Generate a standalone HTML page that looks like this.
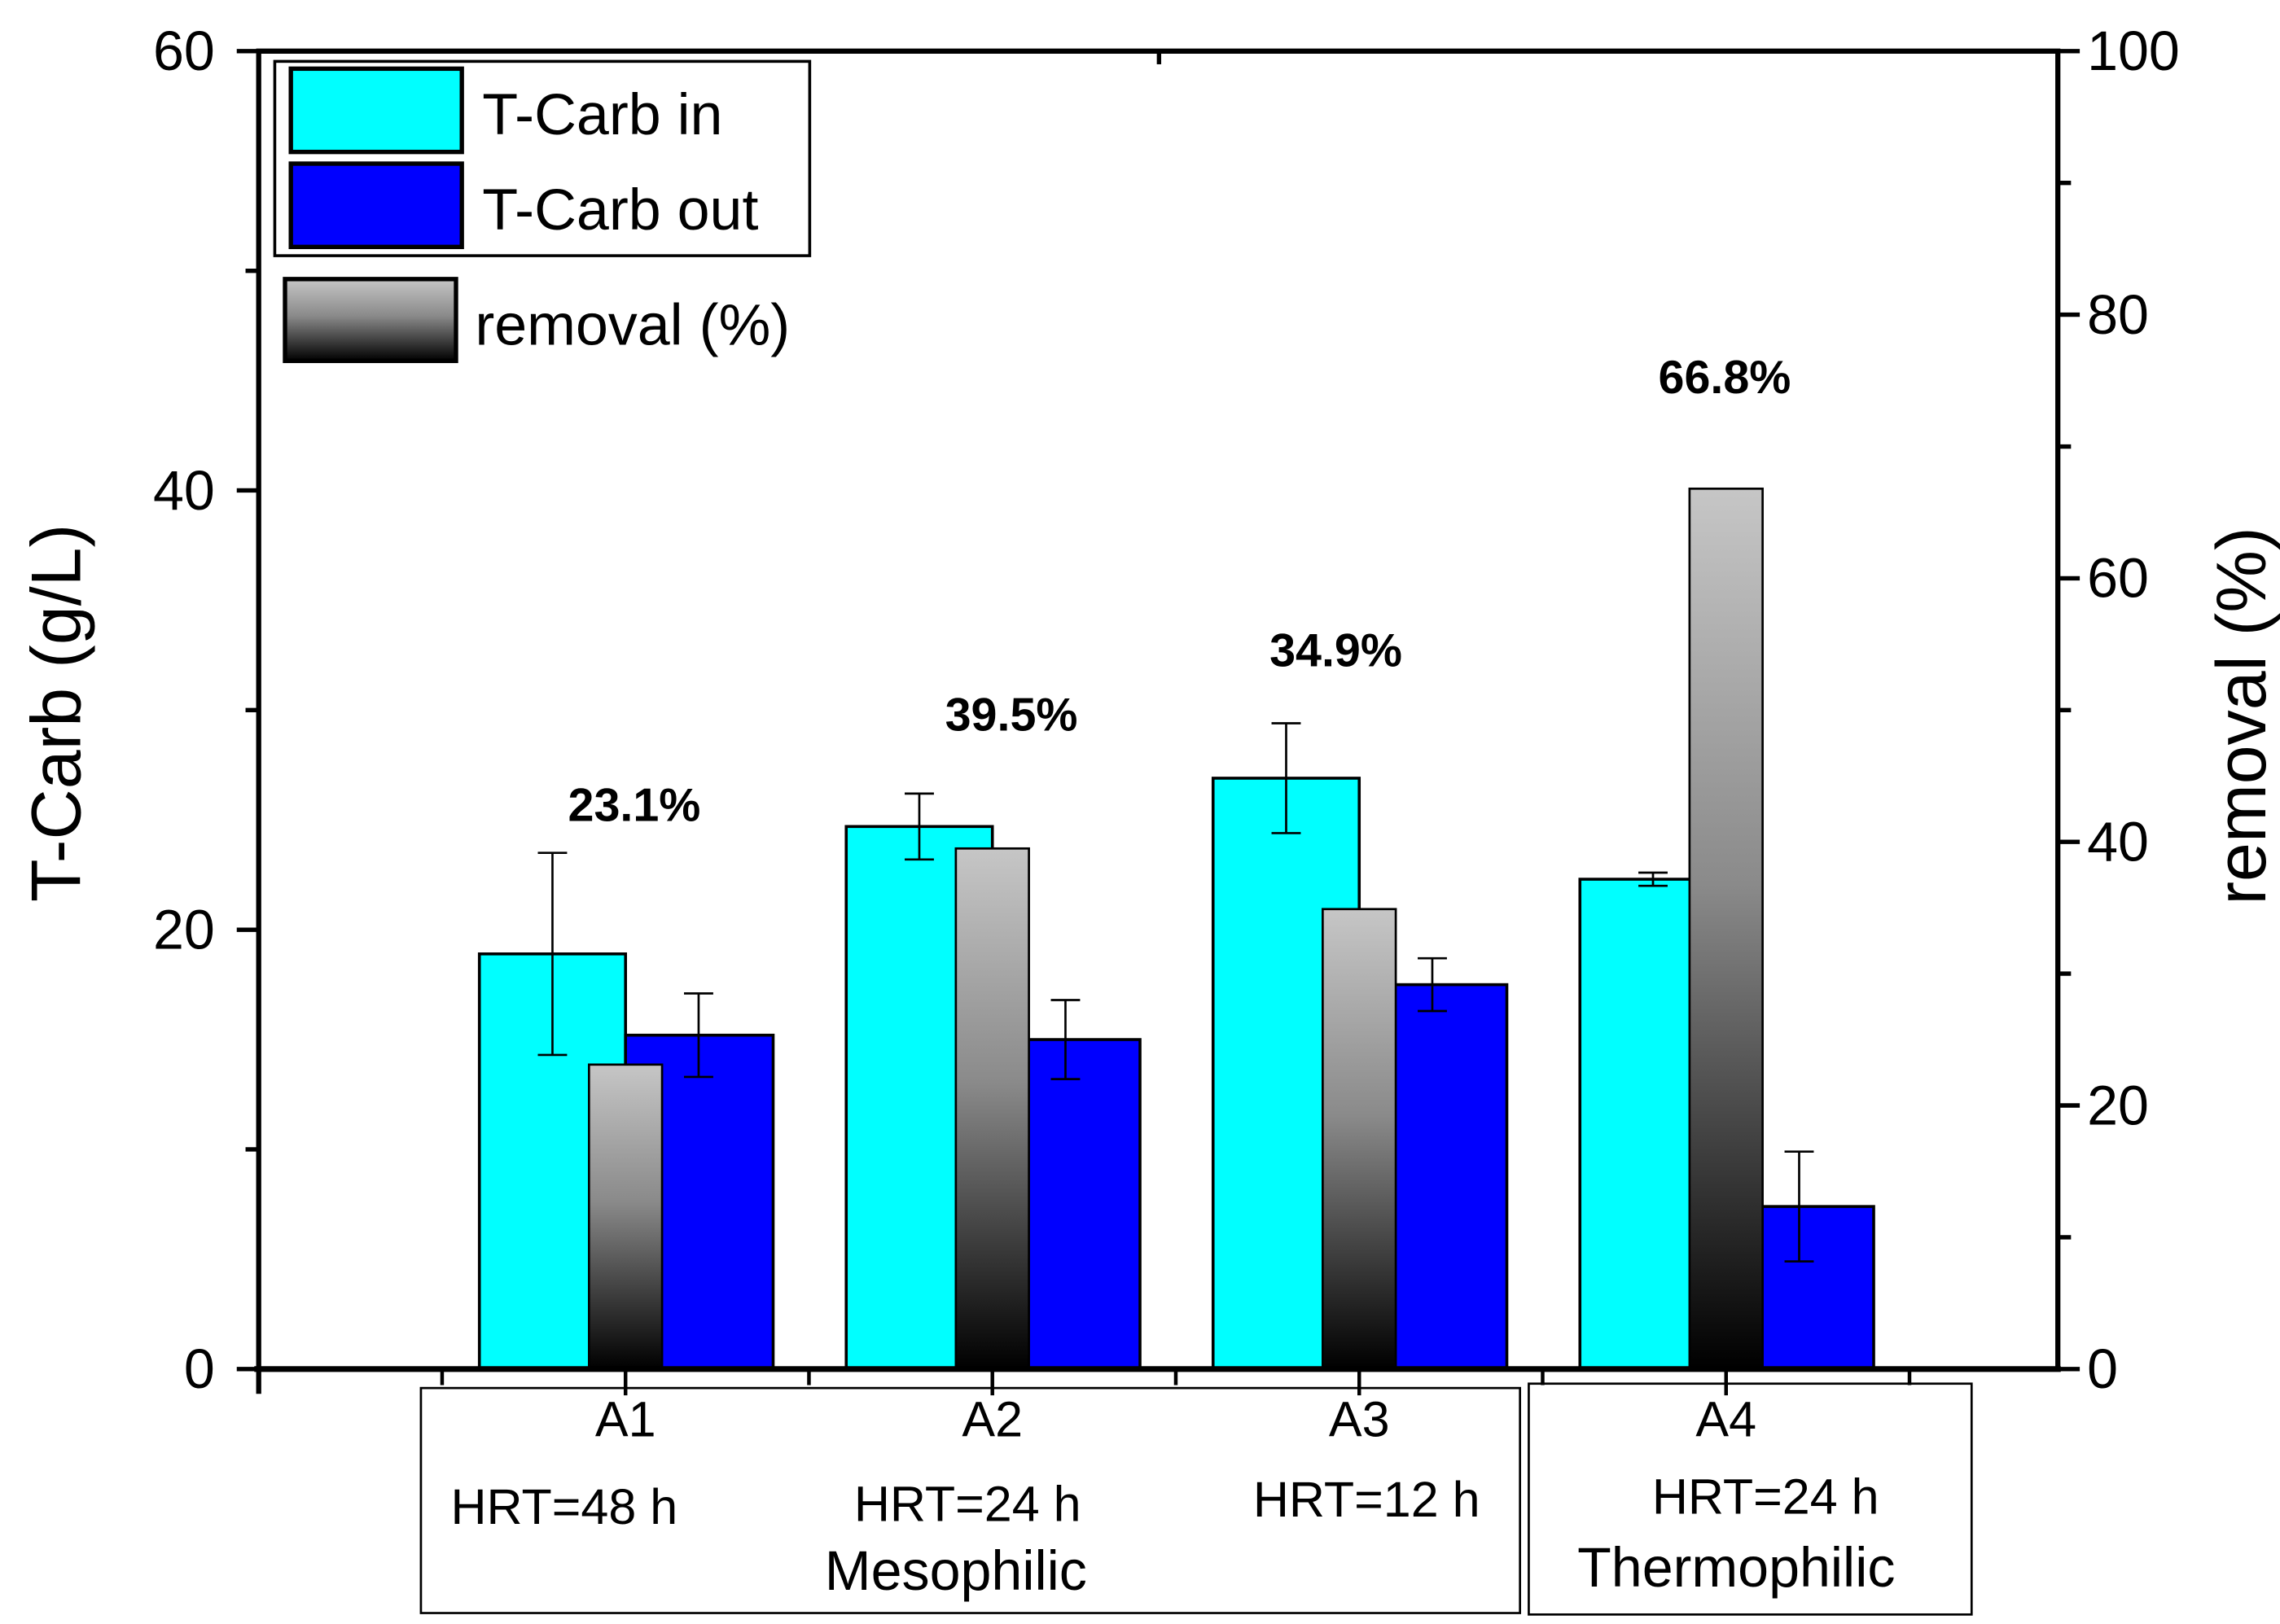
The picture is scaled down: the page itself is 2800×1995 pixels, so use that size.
<!DOCTYPE html>
<html><head><meta charset="utf-8">
<style>
html,body{margin:0;padding:0;background:#fff;}
svg{display:block;}
text{font-family:"Liberation Sans Narrow","Liberation Sans",sans-serif;fill:#000;}
</style></head>
<body>
<svg id="chart" width="2800" height="1995" viewBox="0 0 1560 1111.5" xmlns="http://www.w3.org/2000/svg">
<defs>
<linearGradient id="grayGrad" x1="0" y1="0" x2="0" y2="1">
<stop offset="0" stop-color="#c6c6c6"/>
<stop offset="0.45" stop-color="#8a8a8a"/>
<stop offset="1" stop-color="#000"/>
</linearGradient>
</defs>
<g id="marks"></g>
<g id="axes"></g>
<g>
<rect x="188" y="42" width="366" height="133" fill="#fff" stroke="#000" stroke-width="2"/>
<rect x="199" y="47" width="117" height="57" fill="#00ffff" stroke="#000" stroke-width="3"/>
<text x="330" y="92" font-size="40">T-Carb in</text>
<rect x="199" y="112" width="117" height="57" fill="#0000ff" stroke="#000" stroke-width="3"/>
<text x="330" y="157" font-size="40">T-Carb out</text>
<rect x="195" y="191" width="117" height="56" fill="url(#grayGrad)" stroke="#000" stroke-width="3"/>
<text x="325" y="236" font-size="40">removal (%)</text>
</g>
<text transform="translate(55,488) rotate(-90)" text-anchor="middle" font-size="48" style="font-family:'Liberation Sans',sans-serif">T-Carb (g/L)</text>
<text transform="translate(1550,490) rotate(-90)" text-anchor="middle" font-size="48" style="font-family:'Liberation Sans',sans-serif">removal (%)</text>
<g>
<rect x="288" y="950" width="752" height="154" fill="none" stroke="#000" stroke-width="1.5"/>
<text x="386" y="1043" font-size="34" text-anchor="middle">HRT=48 h</text>
<text x="662" y="1041" font-size="34" text-anchor="middle">HRT=24 h</text>
<text x="654" y="1088" font-size="38" text-anchor="middle">Mesophilic</text>
<text x="935" y="1038" font-size="34" text-anchor="middle">HRT=12 h</text>
</g>
<g>
<rect x="1046" y="947" width="303" height="158" fill="none" stroke="#000" stroke-width="1.5"/>
<text x="1208" y="1036" font-size="34" text-anchor="middle">HRT=24 h</text>
<text x="1188" y="1086" font-size="38" text-anchor="middle">Thermophilic</text>
</g>
<script>
const categories = ["A1","A2","A3","A4"];
const inValues = [18.9, 24.7, 26.9, 22.3];
const inErr = [4.6, 1.5, 2.5, 0.3];
const outValues = [15.2, 15.0, 17.5, 7.4];
const outErr = [1.9, 1.8, 1.2, 2.5];
const removalValues = [23.1, 39.5, 34.9, 66.8];
const removalLabels = ["23.1%","39.5%","34.9%","66.8%"];
const leftTicks = [0, 20, 40, 60];
const rightTicks = [0, 20, 40, 60, 80, 100];
const labelYs = [549, 487, 443, 256];
const labelDx = [6, 13, -16, -1];

const X0 = 177, X1 = 1408, Y0 = 937, YT = 35;
const NS = "http://www.w3.org/2000/svg";
function yL(v){ return Y0 - v * (Y0 - YT) / 60; }
function yR(v){ return Y0 - v * (Y0 - YT) / 100; }
function xC(i){ return 428 + i * 251; }
function mk(tag, attrs, parent){
  const e = document.createElementNS(NS, tag);
  for (const k in attrs) e.setAttribute(k, attrs[k]);
  parent.appendChild(e);
  return e;
}
const marks = document.getElementById('marks');
const axes = document.getElementById('axes');

function errBar(x, v, e, parent){
  const g = mk('g', {}, parent);
  
  
  mk('line', {x1:x, x2:x, y1:yL(v+e), y2:yL(v-e), stroke:'#000', 'stroke-width':1.5}, g);
  mk('line', {x1:x-10, x2:x+10, y1:yL(v+e), y2:yL(v+e), stroke:'#000', 'stroke-width':1.5}, g);
  mk('line', {x1:x-10, x2:x+10, y1:yL(v-e), y2:yL(v-e), stroke:'#000', 'stroke-width':1.5}, g);
}

categories.forEach((c, i) => {
  const cx = xC(i);
  const rin = mk('rect', {x:cx-100, y:yL(inValues[i]), width:100, height:Y0-yL(inValues[i]), fill:'#00ffff', stroke:'#000', 'stroke-width':2}, marks);
  
  
  const rout = mk('rect', {x:cx, y:yL(outValues[i]), width:101, height:Y0-yL(outValues[i]), fill:'#0000ff', stroke:'#000', 'stroke-width':2}, marks);
  
  
  const rr = mk('rect', {x:cx-25, y:yR(removalValues[i]), width:50, height:Y0-yR(removalValues[i]), fill:'url(#grayGrad)', stroke:'#000', 'stroke-width':1.5}, marks);
  
  
  errBar(cx-50, inValues[i], inErr[i], marks);
  errBar(cx+50, outValues[i], outErr[i], marks);
  const t = mk('text', {x:cx+labelDx[i], y:labelYs[i]+13, 'font-size':32, 'font-weight':'bold', 'text-anchor':'middle'}, marks);
  
  
  t.textContent = removalLabels[i];
  const cl = mk('text', {x:cx, y:983, 'font-size':34, 'text-anchor':'middle'}, axes);
  
  
  cl.textContent = c;
  mk('line', {x1:cx, x2:cx, y1:Y0, y2:Y0+18, stroke:'#000', 'stroke-width':2.5}, axes);
  mk('line', {x1:cx-125.5, x2:cx-125.5, y1:Y0, y2:Y0+11, stroke:'#000', 'stroke-width':2.5}, axes);
});
mk('line', {x1:xC(3)+125.5, x2:xC(3)+125.5, y1:Y0, y2:Y0+11, stroke:'#000', 'stroke-width':2.5}, axes);

// frame
const frame = mk('path', {d:`M${X0},${Y0+17} L${X0},${YT} L${X1},${YT} L${X1},${Y0}`, fill:'none', stroke:'#000', 'stroke-width':3.5}, axes);


const xa = mk('line', {x1:X0-3, x2:X1+2, y1:Y0, y2:Y0, stroke:'#000', 'stroke-width':4}, axes);


mk('line', {x1:793, x2:793, y1:YT, y2:YT+9, stroke:'#000', 'stroke-width':3}, axes);

leftTicks.forEach(v => {
  mk('line', {x1:X0-15, x2:X0, y1:yL(v), y2:yL(v), stroke:'#000', 'stroke-width':3}, axes);
  const t = mk('text', {x:147, y:yL(v)+13, 'font-size':38, 'text-anchor':'end'}, axes);
  
  
  t.textContent = v;
});
for (let v = 10; v < 60; v += 20) mk('line', {x1:X0-9, x2:X0, y1:yL(v), y2:yL(v), stroke:'#000', 'stroke-width':3}, axes);
rightTicks.forEach(v => {
  mk('line', {x1:X1, x2:X1+15, y1:yR(v), y2:yR(v), stroke:'#000', 'stroke-width':3}, axes);
  const t = mk('text', {x:1428, y:yR(v)+13, 'font-size':38, 'text-anchor':'start'}, axes);
  
  
  t.textContent = v;
});
for (let v = 10; v < 100; v += 20) mk('line', {x1:X1, x2:X1+9, y1:yR(v), y2:yR(v), stroke:'#000', 'stroke-width':3}, axes);
</script>
</svg>
</body></html>
